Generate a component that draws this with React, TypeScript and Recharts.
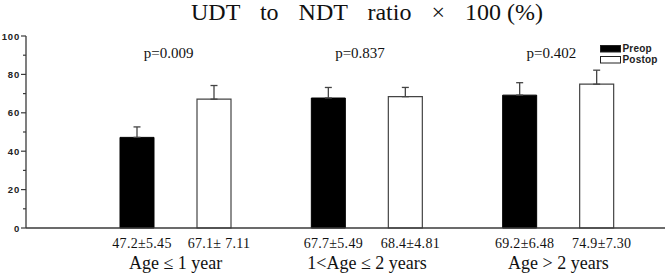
import React from "react";
import {
  BarChart,
  Bar,
  XAxis,
  YAxis,
  ErrorBar,
  LabelList,
  ReferenceDot,
  Legend,
} from "recharts";

const categories = ["Age \u2264 1 year", "1<Age \u2264 2 years", "Age > 2 years"];
const seriesNames = ["Preop", "Postop"];
const preopValues = [47.2, 67.7, 69.2];
const preopSD = [5.45, 5.49, 6.48];
const postopValues = [67.1, 68.4, 74.9];
const postopSD = [7.11, 4.81, 7.3];
const preopLabels = ["47.2\u00b15.45", "67.7\u00b15.49", "69.2\u00b16.48"];
const postopLabels = ["67.1\u00b1 7.11", "68.4\u00b14.81", "74.9\u00b17.30"];
const pValues = ["p=0.009", "p=0.837", "p=0.402"];
const yTicks = [0, 10, 20, 30, 40, 50, 60, 70, 80, 90, 100];
const yLabelTicks = [0, 20, 40, 60, 80, 100];
const titleText = "UDT to NDT ratio \u00d7 ";
const titleTail = "100 (%)";

const data = categories.map((c, i) => ({
  category: c,
  preop: preopValues[i],
  postop: postopValues[i],
  preopErr: [0, preopSD[i]],
  postopErr: [0, postopSD[i]],
  preopLabel: preopLabels[i],
  postopLabel: postopLabels[i],
}));

const AXIS = "#3a3a3a";
const SERIF = "'Liberation Serif', 'Times New Roman', serif";
const SANS = "'Liberation Sans', Arial, sans-serif";

const YTick = (props: any) => {
  const { x, y, payload } = props;
  const v = payload.value;
  const major = yLabelTicks.includes(v);
  return (
    <g>
      <line x1={x - (major ? 5 : 3)} x2={x} y1={y} y2={y} stroke={AXIS} strokeWidth={1.2} />
      {major && (
        <text
          x={x - 6}
          y={y + 3.5}
          textAnchor="end"
          fontFamily={SANS}
          fontWeight="bold"
          fontSize={9.5}
          letterSpacing={0.8}
          fill="#222"
        >
          {v}
        </text>
      )}
    </g>
  );
};

const XTick = (props: any) => {
  const { x, y, payload } = props;
  return (
    <text x={x} y={y + 41} textAnchor="middle" fontFamily={SERIF} fontSize={18} fill="#111">
      {payload.value}
    </text>
  );
};

const makeValueLabel = (key: "preopLabel" | "postopLabel") => (props: any) => {
  const { x, y, width, height, index } = props;
  const text = data[index][key];
  return (
    <text
      x={Number(x) + Number(width) / 2 + 5}
      y={Number(y) + Number(height) + 20}
      textAnchor="middle"
      fontFamily={SERIF}
      fontSize={14}
      letterSpacing={0.3}
      fill="#111"
    >
      {text}
    </text>
  );
};

const PLabel = (text: string) => (props: any) => {
  const vb = props.viewBox || {};
  const cx = (vb.x ?? 0) + (vb.width ?? 0) / 2;
  const cy = (vb.y ?? 0) + (vb.height ?? 0) / 2;
  return (
    <text x={cx - 7} y={cy} textAnchor="middle" fontFamily={SERIF} fontSize={15} fill="#111">
      {text}
    </text>
  );
};

const LegendContent = (props: any) => {
  const payload = [...(props.payload || [])].sort(
    (a: any, b: any) => seriesNames.indexOf(a.value) - seriesNames.indexOf(b.value)
  );
  return (
    <svg width={64} height={30} style={{ display: "block" }}>
      {payload.map((p: any, i: number) => (
        <g key={i}>
          <rect
            x={0.5}
            y={3.5 + i * 11}
            width={20}
            height={6.5}
            fill={p.payload?.fill ?? p.color}
            stroke="#222"
            strokeWidth={1}
          />
          <text
            x={22.5}
            y={10 + i * 11}
            fontFamily={SANS}
            fontWeight="bold"
            fontSize={10}
            letterSpacing={0.2}
            fill="#222"
          >
            {p.value}
          </text>
        </g>
      ))}
    </svg>
  );
};

export default function App() {
  return (
    <div style={{ position: "absolute", left: 0, top: 0, width: 666, height: 273, background: "#fff" }}>
      <svg width={666} height={30} style={{ position: "absolute", left: 0, top: 0 }}>
        <text x={367} y={19.5} textAnchor="middle" fontFamily={SERIF} fontSize={24} fill="#111">
          <tspan style={{ wordSpacing: 14 }}>{titleText}</tspan>
          <tspan>{titleTail}</tspan>
        </text>
      </svg>
      <BarChart
        width={666}
        height={273}
        data={data}
        margin={{ top: 36, right: 1, left: 0, bottom: 0 }}
        barSize={34}
        barGap={43}
      >
        <XAxis
          dataKey="category"
          xAxisId="main"
          height={45}
          padding={{ left: 54, right: 11 }}
          tickLine={false}
          tickSize={0}
          tickMargin={0}
          tick={<XTick />}
          axisLine={{ stroke: AXIS, strokeWidth: 1.3 }}
          interval={0}
        />
        <XAxis
          dataKey="category"
          xAxisId="top"
          orientation="top"
          height={0}
          tick={false}
          tickLine={false}
          axisLine={{ stroke: AXIS, strokeWidth: 1.3 }}
        />
        <YAxis
          yAxisId="main"
          width={26}
          domain={[0, 100]}
          ticks={yTicks}
          interval={0}
          tickLine={false}
          tickSize={0}
          tickMargin={0}
          tick={<YTick />}
          axisLine={{ stroke: AXIS, strokeWidth: 1.3 }}
        />
        <YAxis
          yAxisId="right"
          orientation="right"
          width={0}
          domain={[0, 100]}
          tick={false}
          tickLine={false}
          axisLine={{ stroke: AXIS, strokeWidth: 1.3 }}
        />
        <Legend
          layout="horizontal"
          verticalAlign="middle"
          align="center"
          content={<LegendContent />}
          wrapperStyle={{ position: "absolute", left: 600, top: 42, width: 64, height: 30 }}
        />
        <Bar
          dataKey="preop"
          name="Preop"
          xAxisId="main"
          yAxisId="main"
          fill="#000"
          stroke="#000"
          isAnimationActive={false}
        >
          <ErrorBar dataKey="preopErr" width={3.5} stroke="#444" strokeWidth={1.3} direction="y" isAnimationActive={false} />
          <LabelList dataKey="preopLabel" content={makeValueLabel("preopLabel")} />
        </Bar>
        <Bar
          dataKey="postop"
          name="Postop"
          xAxisId="main"
          yAxisId="main"
          fill="#fff"
          stroke="#444"
          strokeWidth={1.2}
          isAnimationActive={false}
        >
          <ErrorBar dataKey="postopErr" width={3.5} stroke="#444" strokeWidth={1.3} direction="y" isAnimationActive={false} />
          <LabelList dataKey="postopLabel" content={makeValueLabel("postopLabel")} />
        </Bar>
        {categories.map((c, i) => (
          <ReferenceDot
            key={c}
            x={c}
            y={88.5}
            r={1}
            xAxisId="main"
            yAxisId="main"
            fill="none"
            stroke="none"
            label={PLabel(pValues[i])}
            ifOverflow="visible"
          />
        ))}
      </BarChart>
    </div>
  );
}
